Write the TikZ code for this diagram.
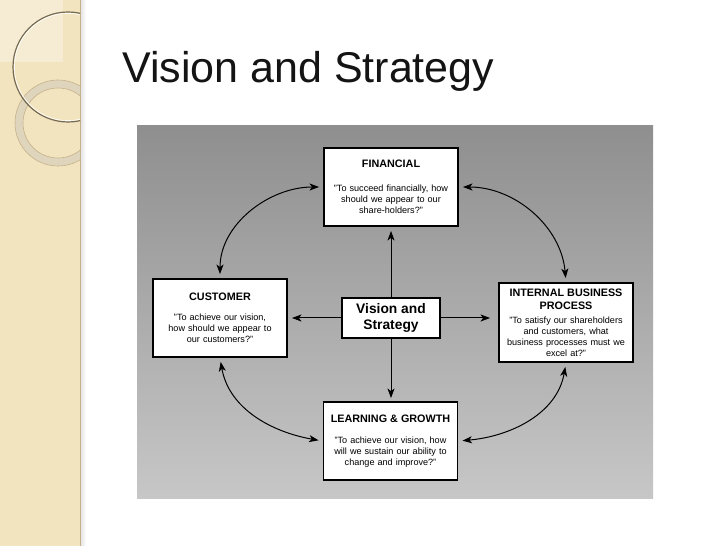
\documentclass[tikz,border=0pt]{standalone}
\usepackage{fontspec}
\setmainfont{Liberation Sans}
\usepackage{xcolor}
\usetikzlibrary{arrows.meta}

\definecolor{sidebar}{HTML}{F3E4C0}
\definecolor{ringcol}{HTML}{DDD3BC}
\definecolor{edgecol}{HTML}{C5B28A}
\newcommand{\hd}{\bfseries\fontsize{10.8}{13}\selectfont}

\begin{document}
\begin{tikzpicture}[x=1pt,y=1pt,
    box/.style={draw,line width=1.9pt,fill=white,minimum width=134pt,minimum height=78pt,
      text width=130pt,align=center,inner sep=2pt,font=\fontsize{9.1}{11}\selectfont},
    arr/.style={line width=1pt,-{Stealth[length=9.5pt,width=7pt,inset=2.5pt]}},
    darr/.style={line width=1pt,{Stealth[length=9.5pt,width=7pt,inset=2.5pt]}-{Stealth[length=9.5pt,width=7pt,inset=2.5pt]},
      shorten <=4pt,shorten >=4pt}]
    \useasboundingbox (0,0) rectangle (728,546);
    \fill[white] (0,0) rectangle (728,546);
    % side strip
    \fill[sidebar] (0,0) rectangle (80,546);
    \shade[left color=black!12,right color=white] (80,0) rectangle (86,546);
    \draw[edgecol,line width=.8pt] (80,0) -- (80,546);
    \begin{scope}
      \clip (0,0) rectangle (80,546);
      \fill[white,opacity=.3] (0,484) rectangle (63,546);
      \draw[ringcol,line width=8pt,opacity=.9] (58,423) circle (39);
      \draw[edgecol,line width=.6pt] (58,423) circle (43) (58,423) circle (35);
      \draw[black!40!edgecol,line width=1.2pt] (68,479) circle (55);
      \draw[white,line width=.6pt] (68,479) circle (53.6);
    \end{scope}
    % title
    \node[anchor=base west,inner sep=0,font=\fontsize{43}{50}\selectfont,text=black!92] (title) at (122,463) {Vision and Strategy};
    % panel
    \shade[top color=black!44,bottom color=black!22] (137,47) rectangle (653,420);
    % boxes
    \node[box] (fin) at (391,359) {{\hd FINANCIAL}\\[13pt]"To succeed financially, how\\should we appear to our\\share-holders?"};
    \node[box] (cus) at (220,228) {{\hd CUSTOMER}\\[9pt]"To achieve our vision,\\how should we appear to\\our customers?"};
    \node[box,minimum height=79pt] (ibp) at (566,223.5) {{\hd INTERNAL BUSINESS}\\[2pt]{\hd PROCESS}\\[3pt]"To satisfy our shareholders\\and customers, what\\business processes must we\\excel at?"};
    \node[box] (lrn) at (390.5,105) {{\hd LEARNING \& GROWTH}\\[10pt]"To achieve our vision, how\\will we sustain our ability to\\change and improve?"};
    \node[draw,line width=1.9pt,fill=white,minimum width=98pt,minimum height=40pt,inner sep=1pt,align=center,
      font=\bfseries\fontsize{13.8}{16}\selectfont] (vis) at (391,228) {Vision and\\Strategy};
    % arrows out of the centre
    \draw[arr,shorten >=4pt] (vis) -- (vis |- fin.south);
    \draw[arr,shorten >=3pt] (vis) -- (vis |- lrn.north);
    \draw[arr,shorten >=4pt] (vis) -- (cus);
    \draw[arr,shorten >=8pt] (vis.east) -- (vis.east -| ibp.west);
    % cycle
    \draw[darr] (fin.west) to[out=180,in=90] (cus.north);
    \draw[darr] (fin.east) to[out=0,in=95] (ibp.north);
    \draw[darr] (cus.south) to[out=-80,in=170] (lrn.west);
    \draw[darr] (ibp.south) to[out=-100,in=5] (lrn.east);
\end{tikzpicture}
\end{document}
